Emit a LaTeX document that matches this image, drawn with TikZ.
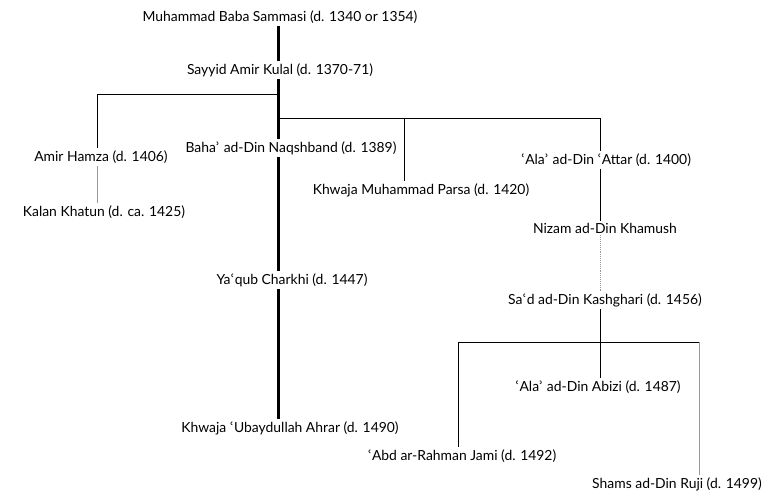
\documentclass[tikz,border=0pt]{standalone}
\usepackage{fontspec}
\setmainfont{Lato}
\newfontfamily\halfring{DejaVu Sans}
\newcommand{\ayn}{{\halfring ʿ}}
\newcommand{\hmz}{{\halfring ʾ}}
\usetikzlibrary{calc}

\tikzset{
  person/.style={font=\fontsize{13.9}{16}\selectfont, inner sep=2pt},
  lineage/.style={line width=3pt},
  branch/.style={line width=0.9pt},
  faint/.style={line width=0.9pt, color=black!40},
}

\begin{document}
\begin{tikzpicture}[x=1pt, y=-1pt]
		%%%%% FRAME %%%%%
		\useasboundingbox (0, 0) rectangle (780, 497);
		
		%%%%% NAMES %%%%%
		\node[person] (sammasi) at (280, 17) {Muhammad Baba Sammasi (d. 1340 or 1354)};
		\node[person] (sayyid) at (280, 70) {Sayyid Amir Kulal (d. 1370-71)};
		
		\node[person] (hamza) at (101, 157) {Amir Hamza (d. 1406)};
		\node[person] (kalan) at (104, 212) {Kalan Khatun (d. ca. 1425)};
		
		\node[person] (baha) at (291, 148) {Baha\hmz{} ad-Din Naqshband (d. 1389)};
		\node[person] (yaqub) at (292, 280) {Ya\ayn qub Charkhi (d. 1447)};
		\node[person] (ahrar) at (290, 428) {Khwaja \ayn Ubaydullah Ahrar (d. 1490)};
		
		\node[person] (parsa) at (421, 190) {Khwaja Muhammad Parsa (d. 1420)};
		
		\node[person] (attar) at (606, 160) {\ayn Ala\hmz{} ad-Din \ayn Attar (d. 1400)};
		\node[person] (nizam) at (605, 228) {Nizam ad-Din Khamush};
		\node[person] (sad) at (605, 300) {Sa\ayn d ad-Din Kashghari (d. 1456)};
		\node[person] (abizi) at (598, 387) {\ayn Ala\hmz{} ad-Din Abizi (d. 1487)};
		\node[person] (jami) at (462, 456) {\ayn Abd ar-Rahman Jami (d. 1492)};
		\node[person] (ruji) at (677, 484) {Shams ad-Din Ruji (d. 1499)};
		
		%%%%% JUNCTIONS %%%%%
		\coordinate (spine) at (278, 94);
		\coordinate (left) at (97, 94);
		\coordinate (right) at (278, 118);
		\coordinate (parsaX) at (404, 118);
		\coordinate (attarX) at (600, 118);
		\coordinate (fork) at (600, 342);
		\coordinate (jamiX) at (458, 342);
		\coordinate (rujiX) at (699, 342);
		
		%%%%% MAIN LINE %%%%%
		\draw[lineage] (sammasi.south -| spine) -- (sayyid.north -| spine);
		\draw[lineage] (sayyid.south -| spine) -- (baha.north -| spine);
		\draw[lineage] (baha.south -| spine) -- (yaqub.north -| spine);
		\draw[lineage] (yaqub.south -| spine) -- (ahrar.north -| spine);
		
		%%%%% SIDE LINES %%%%%
		\draw[branch] (spine) -- (left) -- (hamza.north -| left);
		\draw[faint] (hamza.south -| left) -- (kalan.north -| left);
		
		\draw[branch] (right) -- (attarX) -- (attar.north -| attarX);
		\draw[branch] (parsaX) -- (parsa.north -| parsaX);
		\draw[branch] (attar.south -| attarX) -- (nizam.north -| attarX);
		\draw[faint, densely dotted] (nizam.south -| attarX) -- (sad.north -| attarX);
		
		\draw[branch] (sad.south -| fork) -- (abizi.north -| fork);
		\draw[branch] (jamiX) -- (rujiX);
		\draw[branch] (jamiX) -- (jami.north -| jamiX);
		\draw[faint] (rujiX) -- (ruji.north -| rujiX);
		
	\end{tikzpicture}
\end{document}
